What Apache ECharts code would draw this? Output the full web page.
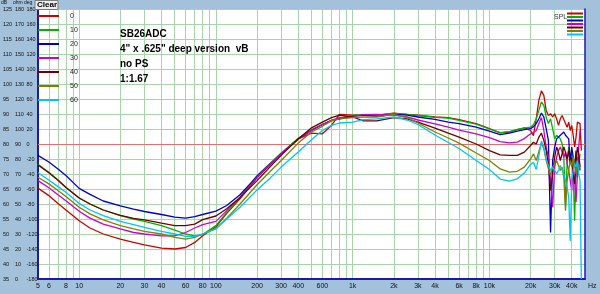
<!DOCTYPE html>
<html>
<head>
<meta charset="utf-8">
<script src="https://cdn.jsdelivr.net/npm/echarts@6/dist/echarts.min.js"></script>
<style>
  html, body { margin: 0; padding: 0; background: #a3c1da; }
  #main { width: 600px; height: 294px; }
</style>
</head>
<body>
<div id="main"></div>
<script>
const chart = echarts.init(document.getElementById('main'));

// frequency points (Hz)
const freqs = [5, 6, 7, 8, 10, 12, 15, 20, 25, 30,
  40, 50, 60, 70, 80, 100, 120, 150, 200, 250,
  300, 400, 500, 600, 700, 800, 1000, 1200, 1500, 2000,
  2500, 3000, 4000, 5000, 6000, 8000, 10000, 12000, 14000, 16000,
  18000, 20000, 21000, 22000, 23000, 24000, 25000, 26000, 27000, 28000,
  29000, 30000, 31000, 32000, 33000, 34000, 35000, 36000, 37000, 38000,
  39000, 40000, 41000, 42000, 43000, 44000, 45000, 46000, 47000];

// SPL (dB) per off-axis angle
const spl0 = [65.3, 62.8, 60.2, 58.0, 54.4, 52.0, 50.0, 48.3, 47.2, 46.4,
  45.3, 45.0, 45.5, 47.2, 49.4, 52.4, 56.9, 61.7, 68.7, 73.2,
  76.7, 81.7, 83.6, 83.4, 86.2, 89.9, 89.6, 89.6, 89.6, 90.3,
  89.9, 89.6, 89.0, 88.8, 88.1, 86.8, 85.1, 83.7, 84.0, 84.8,
  85.4, 84.5, 82.8, 88.5, 94.6, 97.7, 96.2, 91.2, 89.5, 90.1,
  89.0, 90.1, 88.4, 86.2, 88.4, 89.5, 89.0, 86.8, 85.6, 87.3,
  84.5, 86.2, 82.9, 79.0, 82.3, 87.3, 87.9, 86.8, 77.8];
const spl10 = [73.2, 70.6, 68.0, 65.6, 62.0, 60.0, 58.0, 56.1, 55.0, 54.2,
  52.8, 51.3, 50.0, 49.4, 49.8, 52.8, 57.2, 62.2, 69.5, 73.6,
  77.0, 81.9, 84.8, 86.5, 87.7, 88.4, 89.6, 89.6, 89.6, 90.2,
  89.9, 89.5, 88.9, 88.6, 87.9, 86.6, 85.0, 83.8, 84.1, 84.9,
  85.3, 85.6, 86.5, 88.4, 91.2, 94.0, 92.9, 89.0, 86.8, 88.4,
  85.1, 81.7, 82.9, 83.4, 81.7, 80.1, 75.6, 59.4, 73.4, 79.0,
  75.6, 77.8, 70.0, 54.4, 72.3, 75.6, 73.4, 76.7, null];
const spl20 = [76.2, 74.0, 71.7, 69.5, 65.2, 63.2, 61.0, 59.4, 58.3, 57.5,
  56.5, 55.6, 55.3, 55.8, 56.5, 57.6, 59.5, 63.1, 69.2, 73.4,
  76.7, 81.7, 84.5, 86.5, 87.9, 88.4, 89.2, 89.6, 89.2, 89.9,
  89.6, 89.0, 88.2, 87.3, 86.8, 85.6, 84.3, 83.1, 83.6, 84.3,
  84.8, 85.1, 85.8, 86.8, 88.4, 90.3, 89.0, 85.1, 81.2, 50.5,
  74.5, 79.0, 81.7, 82.3, 82.9, 83.4, 84.0, 82.9, 83.4, 81.7,
  73.4, 79.0, 75.6, 72.3, 77.8, 68.9, 75.6, 71.2, null];
const spl30 = [67.8, 65.4, 63.1, 61.1, 57.6, 55.3, 53.3, 51.7, 50.5, 50.0,
  49.4, 49.4, 50.5, 52.0, 53.1, 54.2, 57.8, 62.2, 68.9, 73.4,
  76.7, 81.7, 84.5, 86.5, 87.9, 88.8, 89.2, 89.8, 89.9, 89.6,
  89.0, 88.0, 86.7, 85.6, 84.6, 83.4, 82.1, 80.8, 80.4, 80.6,
  81.8, 83.4, 83.8, 84.5, 86.8, 88.8, 84.5, 79.0, 75.6, 67.8,
  58.9, 72.3, 75.6, 77.8, 79.0, 77.3, 75.6, 77.3, 73.4, 71.2,
  67.8, 64.5, 73.4, 67.8, 60.6, 70.0, 79.0, 84.5, null];
const spl40 = [73.0, 70.4, 67.9, 65.5, 62.0, 60.0, 58.0, 56.2, 55.2, 54.7,
  53.6, 52.8, 52.8, 53.3, 54.8, 56.0, 58.4, 62.2, 67.8, 72.5,
  76.2, 81.7, 85.4, 87.3, 88.8, 89.6, 89.0, 87.7, 87.7, 88.8,
  88.4, 87.3, 85.3, 83.6, 82.3, 80.0, 77.8, 76.4, 76.2, 76.2,
  77.3, 79.5, 80.6, 80.0, 82.3, 83.6, 81.2, 77.8, 73.4, 64.5,
  70.0, 75.6, 79.0, 77.3, 74.5, 76.7, 79.0, 77.3, 75.0, 77.8,
  73.4, 75.6, 70.0, 66.7, 73.4, 79.0, 76.7, 72.3, null];
const spl50 = [68.9, 66.7, 64.5, 62.5, 58.9, 56.7, 54.7, 52.8, 51.7, 50.9,
  50.0, 48.9, 48.3, 48.9, 50.0, 51.8, 55.3, 60.0, 66.4, 70.9,
  74.5, 80.3, 84.0, 85.9, 87.7, 88.4, 88.8, 89.0, 89.0, 89.9,
  88.8, 87.0, 84.0, 82.0, 80.3, 77.0, 74.5, 71.7, 70.6, 70.9,
  72.3, 75.0, 76.7, 74.5, 77.5, 80.3, 78.4, 74.5, 71.7, 69.5,
  72.3, 73.4, 74.5, 72.8, 71.2, 72.3, 68.9, 57.8, 67.8, 71.2,
  74.5, 72.3, 75.6, 73.4, 70.0, 74.5, 71.2, 73.4, null];
const spl60 = [70.4, 68.0, 65.8, 63.9, 60.2, 58.0, 56.1, 54.2, 53.1, 52.2,
  50.9, 50.0, 49.2, 49.2, 50.0, 51.7, 55.0, 58.9, 64.7, 68.7,
  72.3, 77.3, 81.4, 84.5, 86.2, 87.0, 87.3, 88.1, 88.4, 89.0,
  88.0, 86.5, 83.0, 80.5, 78.5, 74.5, 71.5, 68.3, 67.6, 68.4,
  70.3, 73.2, 73.9, 71.5, 76.0, 81.0, 79.0, 75.0, 72.8, 71.2,
  72.3, 71.2, 70.0, 71.2, 72.8, 72.3, 70.0, 67.8, 65.6, 62.3,
  47.7, 67.8, 71.2, 73.4, 72.3, 74.5, 70.0, 67.8, 35.0];

const names = ['0', '10', '20', '30', '40', '50', '60'];
const colors = ['#cc0000', '#00b400', '#0000cc', '#cc00cc', '#6e0000', '#808000', '#00c4f4'];
const curves = [spl0, spl10, spl20, spl30, spl40, spl50, spl60];

// axis ticks / grid
const gridFreqs = [5, 6, 7, 8, 9, 10, 20, 30, 40, 50, 60, 70, 80, 90, 100,
  200, 300, 400, 500, 600, 700, 800, 900, 1000,
  2000, 3000, 4000, 5000, 6000, 7000, 8000, 9000, 10000,
  20000, 30000, 40000, 50000];
const labelFreqs = [5, 6, 8, 10, 20, 30, 40, 60, 80, 100, 200, 300, 400, 600,
  1000, 2000, 3000, 4000, 6000, 8000, 10000, 20000, 30000, 40000];
const refLevel = 80;
const notes = ['SB26ADC', '4" x .625" deep version  vB', 'no PS', '1:1.67'];

const font = 'Liberation Sans, Arial, sans-serif';
const gridColor = '#a9d3a9';
const frameColor = '#1a1aa6';

function fmtFreq(v) {
  return v >= 1000 ? (v / 1000) + 'k' : String(v);
}

const series = curves.map((vals, k) => {
  const pts = [];
  freqs.forEach((f, i) => { if (vals[i] != null) pts.push([f, vals[i]]); });
  const s = {
    name: names[k],
    type: 'line',
    data: pts,
    showSymbol: false,
    symbol: 'none',
    lineStyle: { width: 1.3, color: colors[k] },
    itemStyle: { color: colors[k] },
    z: 3
  };
  if (k === 0) {
    s.markLine = {
      silent: true,
      symbol: 'none',
      label: { show: false },
      lineStyle: { color: '#e07070', width: 1, type: 'solid' },
      data: [{ yAxis: refLevel }],
      z: 2
    };
  }
  return s;
});

const labelStyle = { fontSize: 5.5, color: '#111', fontFamily: font, align: 'left' };

const option = {
  backgroundColor: '#a3c1da',
  animation: false,
  title: {
    text: notes.join('\n'),
    left: 120,
    top: 27,
    padding: 0,
    textStyle: { fontSize: 10, fontWeight: 'bold', color: '#000', lineHeight: 15, fontFamily: font }
  },
  legend: [
    {
      data: names,
      orient: 'vertical',
      left: 38,
      top: 12,
      padding: 0,
      icon: 'rect',
      itemWidth: 21,
      itemHeight: 2,
      itemGap: 6,
      selectedMode: false,
      textStyle: { fontSize: 7, color: '#222', fontFamily: font, lineHeight: 8, padding: [0, 0, 0, 6] }
    },
    {
      data: names,
      orient: 'vertical',
      left: 567,
      top: 12.5,
      padding: 0,
      icon: 'rect',
      itemWidth: 16,
      itemHeight: 2,
      itemGap: 1.5,
      selectedMode: false,
      formatter: () => '',
      textStyle: { fontSize: 1, lineHeight: 1 }
    }
  ],
  grid: {
    left: 35, right: 15, top: 9, bottom: 15,
    show: true, backgroundColor: '#ffffff', borderWidth: 0
  },
  xAxis: {
    type: 'log',
    logBase: 10,
    min: 5,
    max: 50000,
    name: 'Hz',
    nameLocation: 'end',
    nameGap: 3,
    nameTextStyle: { fontSize: 7, color: '#111', fontFamily: font, verticalAlign: 'top', padding: [4, 0, 0, 0] },
    axisLine: { show: true, onZero: false, lineStyle: { color: frameColor, width: 2 } },
    axisTick: { show: false, customValues: gridFreqs },
    axisLabel: { customValues: labelFreqs, formatter: fmtFreq, fontSize: 7, color: '#111', fontFamily: font, margin: 4, hideOverlap: false },
    splitLine: { show: true, lineStyle: { color: gridColor, width: 1 } }
  },
  yAxis: [
    {
      type: 'value', min: 35, max: 125, interval: 5, position: 'left',
      axisLine: { show: true, onZero: false, lineStyle: { color: frameColor, width: 2 } },
      axisTick: { show: false },
      axisLabel: Object.assign({ margin: 35 }, labelStyle),
      splitLine: { show: true, lineStyle: { color: gridColor, width: 1 } }
    },
    {
      type: 'value', min: 0, max: 180, interval: 10, position: 'left',
      axisLine: { show: false }, axisTick: { show: false }, splitLine: { show: false },
      axisLabel: Object.assign({ margin: 23 }, labelStyle)
    },
    {
      type: 'value', min: -180, max: 180, interval: 20, position: 'left',
      axisLine: { show: false }, axisTick: { show: false }, splitLine: { show: false },
      axisLabel: Object.assign({ margin: 11.5 }, labelStyle)
    },
    {
      type: 'value', min: 35, max: 125, position: 'right',
      axisLine: { show: true, onZero: false, lineStyle: { color: frameColor, width: 1.5 } },
      axisTick: { show: false }, axisLabel: { show: false }, splitLine: { show: false }
    }
  ],
  graphic: [
    { type: 'rect', shape: { x: 35, y: 0.5, width: 23, height: 9 }, style: { fill: '#ececec', stroke: '#7a7a7a', lineWidth: 1 }, z: 10 },
    { type: 'text', x: 37, y: 1, style: { text: 'Clear', fontSize: 8, fontWeight: 'bold', fill: '#000', fontFamily: font }, z: 11 },
    { type: 'text', x: 1, y: 0, style: { text: 'dB', fontSize: 5, fill: '#111', fontFamily: font } },
    { type: 'text', x: 13, y: 0, style: { text: 'ohm', fontSize: 5, fill: '#111', fontFamily: font } },
    { type: 'text', x: 24, y: 0, style: { text: 'deg', fontSize: 5, fill: '#111', fontFamily: font } },
    { type: 'text', x: 554, y: 14, style: { text: 'SPL', fontSize: 7, fill: '#333', fontFamily: font }, z: 10 }
  ],
  series: series
};

chart.setOption(option);
</script>
</body>
</html>
